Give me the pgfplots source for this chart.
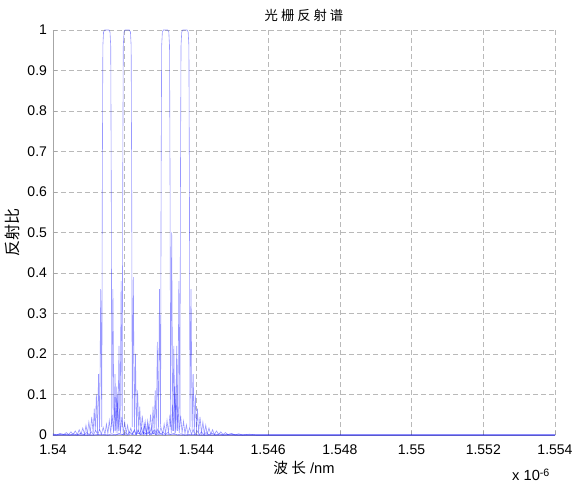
\documentclass[border=0pt]{standalone}
\usepackage{pgfplots}
\pgfplotsset{compat=1.18}
\usepackage{fontspec}
\setmainfont{Liberation Sans}
\newfontfamily\cjk{Noto Sans CJK SC}

% reflection spectra of the four gratings (wavelength in units of 1e-6 m)
\pgfplotstableread{
x R
1.53950 0
1.53970 0.002
1.53990 0
1.54000 0.003
1.54010 0
1.54020 0.004
1.54030 0.001
1.54037 0.006
1.54044 0.001
1.54050 0.008
1.54056 0.001
1.54062 0.010
1.54068 0.001
1.54073 0.013
1.54078 0.002
1.54083 0.017
1.54088 0.002
1.54092 0.024
1.54096 0.003
1.54100 0.032
1.54104 0.005
1.54108 0.045
1.54112 0.005
1.54115 0.065
1.54118 0.01
1.54121 0.10
1.54124 0.005
1.54127 0.15
1.54130 0.01
1.54133 0.36
1.54136 0.02
1.541375 0.61
1.54139 0.96
1.54141 0.995
1.54144 1
1.54150 1
1.54156 1
1.54159 0.995
1.54161 0.96
1.541625 0.61
1.54164 0.02
1.54167 0.36
1.54170 0.01
1.54173 0.15
1.54176 0.005
1.54179 0.10
1.54182 0.01
1.54185 0.065
1.54188 0.005
1.54192 0.045
1.54196 0.005
1.54200 0.032
1.54204 0.003
1.54208 0.024
1.54212 0.002
1.54217 0.017
1.54222 0.002
1.54227 0.013
1.54232 0.001
1.54238 0.010
1.54244 0.001
1.54250 0.008
1.54256 0.001
1.54263 0.006
1.54270 0.001
1.54280 0.004
1.54290 0
1.54300 0.003
1.54310 0
1.54330 0.002
1.54350 0
1.55400 0
}\gA

\pgfplotstableread{
x R
1.54000 0
1.54007 0
1.54027 0.002
1.54047 0
1.54057 0.003
1.54067 0
1.54077 0.004
1.54087 0.001
1.54094 0.006
1.54101 0.001
1.54107 0.008
1.54113 0.001
1.54119 0.011
1.54125 0.001
1.54130 0.014
1.54135 0.002
1.54140 0.019
1.54145 0.002
1.54149 0.027
1.54153 0.003
1.54157 0.036
1.54161 0.005
1.54165 0.05
1.54169 0.005
1.54172 0.075
1.54175 0.01
1.54178 0.12
1.54181 0.005
1.54184 0.22
1.54187 0.01
1.54190 0.38
1.54193 0.02
1.541945 0.64
1.54196 0.96
1.54198 0.995
1.54201 1
1.54207 1
1.54213 1
1.54216 0.995
1.54218 0.96
1.542195 0.60
1.54221 0.02
1.54224 0.39
1.54227 0.01
1.54230 0.20
1.54233 0.005
1.54236 0.11
1.54239 0.01
1.54242 0.07
1.54245 0.005
1.54249 0.048
1.54253 0.005
1.54257 0.034
1.54261 0.003
1.54265 0.025
1.54269 0.002
1.54274 0.018
1.54279 0.002
1.54284 0.013
1.54289 0.001
1.54295 0.010
1.54301 0.001
1.54307 0.008
1.54313 0.001
1.54320 0.006
1.54327 0.001
1.54337 0.004
1.54347 0
1.54357 0.003
1.54367 0
1.54387 0.002
1.54407 0
1.55400 0
}\gB

\pgfplotstableread{
x R
1.54000 0
1.54114 0
1.54134 0.002
1.54154 0
1.54164 0.003
1.54174 0
1.54184 0.004
1.54194 0.001
1.54201 0.006
1.54208 0.001
1.54214 0.008
1.54220 0.001
1.54226 0.010
1.54232 0.001
1.54237 0.013
1.54242 0.002
1.54247 0.018
1.54252 0.002
1.54256 0.026
1.54260 0.003
1.54264 0.035
1.54268 0.005
1.54272 0.05
1.54276 0.005
1.54279 0.07
1.54282 0.01
1.54285 0.11
1.54288 0.005
1.54291 0.23
1.54294 0.01
1.54297 0.36
1.54300 0.02
1.543015 0.62
1.54303 0.96
1.54305 0.995
1.54308 1
1.54314 1
1.54320 1
1.54323 0.995
1.54325 0.96
1.543265 0.60
1.54328 0.02
1.54331 0.50
1.54334 0.01
1.54337 0.22
1.54340 0.005
1.54343 0.12
1.54346 0.01
1.54349 0.07
1.54352 0.005
1.54356 0.048
1.54360 0.005
1.54364 0.034
1.54368 0.003
1.54372 0.025
1.54376 0.002
1.54381 0.018
1.54386 0.002
1.54391 0.013
1.54396 0.001
1.54402 0.010
1.54408 0.001
1.54414 0.008
1.54420 0.001
1.54427 0.006
1.54434 0.001
1.54444 0.004
1.54454 0
1.54464 0.003
1.54474 0
1.54494 0.002
1.54514 0
1.55400 0
}\gC

\pgfplotstableread{
x R
1.54000 0
1.54168 0
1.54188 0.002
1.54208 0
1.54218 0.003
1.54228 0
1.54238 0.004
1.54248 0.001
1.54255 0.006
1.54262 0.001
1.54268 0.008
1.54274 0.001
1.54280 0.011
1.54286 0.001
1.54291 0.014
1.54296 0.002
1.54301 0.019
1.54306 0.002
1.54310 0.027
1.54314 0.003
1.54318 0.036
1.54322 0.005
1.54326 0.05
1.54330 0.005
1.54333 0.075
1.54336 0.01
1.54339 0.12
1.54342 0.005
1.54345 0.22
1.54348 0.01
1.54351 0.38
1.54354 0.02
1.543555 0.64
1.54357 0.96
1.54359 0.995
1.54362 1
1.54368 1
1.54374 1
1.54377 0.995
1.54379 0.96
1.543805 0.60
1.54382 0.02
1.54385 0.36
1.54388 0.01
1.54391 0.15
1.54394 0.005
1.54397 0.10
1.54400 0.01
1.54403 0.065
1.54406 0.005
1.54410 0.045
1.54414 0.005
1.54418 0.032
1.54422 0.003
1.54426 0.024
1.54430 0.002
1.54435 0.017
1.54440 0.002
1.54445 0.013
1.54450 0.001
1.54456 0.010
1.54462 0.001
1.54468 0.008
1.54474 0.001
1.54481 0.006
1.54488 0.001
1.54498 0.004
1.54508 0
1.54518 0.003
1.54528 0
1.54548 0.002
1.54568 0
1.55400 0
}\gD

\begin{document}
\begin{tikzpicture}
\begin{axis}[
    scale only axis,
    width=376.5pt, height=303.75pt,
    xmin=1.54, xmax=1.554, ymin=0, ymax=1,
    xtick={1.54,1.542,1.544,1.546,1.548,1.55,1.552,1.554},
    xticklabels={1.54,1.542,1.544,1.546,1.548,1.55,1.552,1.554},
    ytick={0,0.1,0.2,0.3,0.4,0.5,0.6,0.7,0.8,0.9,1},
    yticklabels={0,0.1,0.2,0.3,0.4,0.5,0.6,0.7,0.8,0.9,1},
    axis x line*=bottom, axis y line*=left,
    axis line style={-, gray!70, line width=0.5pt},
    tick align=inside, major tick length=3pt,
    tick style={gray!70, line width=0.5pt},
    grid=major,
    major grid style={gray!55, line width=0.5pt, dash pattern=on 3.5pt off 2.5pt},
    ticklabel style={font=\fontsize{10.5}{12}\selectfont},
    xticklabel style={yshift=-4pt},
    yticklabel style={xshift=-1pt},
    title={\cjk 光 栅 反 射 谱},
    title style={font=\fontsize{10}{12}\selectfont, yshift=-3pt},
    xlabel={{\cjk 波 长} /nm},
    xlabel style={font=\fontsize{11}{13}\selectfont, yshift=2pt},
    ylabel={\cjk 反射比},
    ylabel style={font=\fontsize{12}{14}\selectfont, yshift=-1pt},
]
\addplot[draw=blue, draw opacity=0.4, line width=0.45pt] table {\gA};
\addplot[draw=blue, draw opacity=0.4, line width=0.45pt] table {\gB};
\addplot[draw=blue, draw opacity=0.4, line width=0.45pt] table {\gC};
\addplot[draw=blue, draw opacity=0.4, line width=0.45pt] table {\gD};
\coordinate (sw) at (rel axis cs:0,0);
\coordinate (se) at (rel axis cs:1,0);
\coordinate (ne) at (rel axis cs:1,1);
\end{axis}
\node[anchor=north east, font=\fontsize{11}{13}\selectfont, inner sep=0pt]
    at ([shift={(-4pt,-25pt)}]se) {x 10\raisebox{0.6ex}{\fontsize{8}{9}\selectfont -6}};
\pgfresetboundingbox
\path ([shift={(-39.75pt,-37.5pt)}]sw) rectangle ([shift={(16.5pt,22.5pt)}]ne);
\end{tikzpicture}
\end{document}
